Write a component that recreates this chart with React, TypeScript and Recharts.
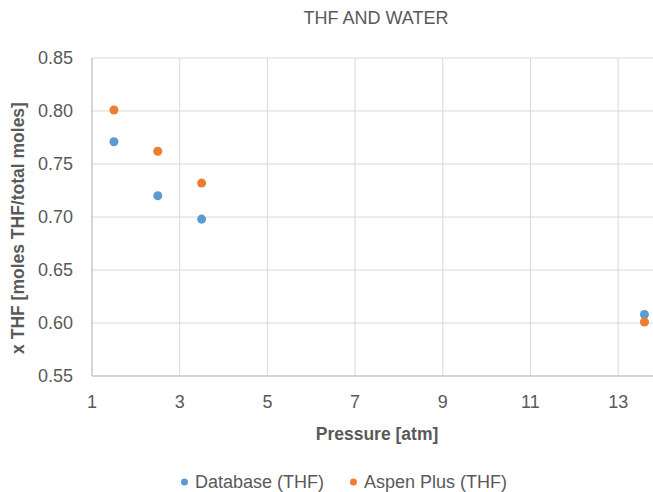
import { ScatterChart, Scatter, XAxis, YAxis, ZAxis, CartesianGrid, Label } from "recharts"

// pressure in atm, shared by both series
const pressure = [1.5, 2.5, 3.5, 13.6]
const databaseTHF = [0.771, 0.72, 0.698, 0.608]
const aspenTHF = [0.801, 0.762, 0.732, 0.601]

const xTicks = [1, 3, 5, 7, 9, 11, 13]
const yTicks = [0.55, 0.6, 0.65, 0.7, 0.75, 0.8, 0.85]

const BLUE = "#5B9BD5"
const ORANGE = "#ED7D31"
const TEXT = "#595959"
const FONT = "'Liberation Sans', Arial, sans-serif"
const SIZE = 18

const databaseData = pressure.map((p, i) => ({ p, x: databaseTHF[i] }))
const aspenData = pressure.map((p, i) => ({ p, x: aspenTHF[i] }))

const YTitle = (props: any) => {
  const { x, y, height } = props.viewBox
  const cx = x + 18
  const cy = y + height / 2 + 11
  return (
    <text
      x={cx}
      y={cy}
      transform={`rotate(-90, ${cx}, ${cy})`}
      textAnchor="middle"
      dominantBaseline="central"
      fill={TEXT}
      fontSize={17.5}
      fontWeight="bold"
      fontFamily={FONT}
    >
      x THF [moles THF/total moles]
    </text>
  )
}

const XTitle = (props: any) => {
  const { x, y, width } = props.viewBox
  return (
    <text
      x={x + width / 2}
      y={y + 58}
      textAnchor="middle"
      dominantBaseline="central"
      fill={TEXT}
      fontSize={17.5}
      fontWeight="bold"
      fontFamily={FONT}
    >
      Pressure [atm]
    </text>
  )
}

function LegendItem({ color, label }: { color: string; label: string }) {
  return (
    <span style={{ display: "flex", alignItems: "center", gap: 7 }}>
      <span
        style={{
          display: "inline-block",
          width: 7,
          height: 7,
          borderRadius: "50%",
          backgroundColor: color,
        }}
      />
      {label}
    </span>
  )
}

export default function App() {
  return (
    <div
      style={{
        position: "absolute",
        left: 0,
        top: 0,
        width: 653,
        height: 492,
        overflow: "hidden",
        background: "#fff",
        fontFamily: FONT,
      }}
    >
      <div
        style={{
          position: "absolute",
          left: 376,
          top: 18,
          transform: "translate(-50%, -50%)",
          whiteSpace: "nowrap",
          color: TEXT,
          fontSize: SIZE,
        }}
      >
        THF AND WATER
      </div>
      <ScatterChart
        width={680}
        height={492}
        margin={{ top: 58, right: 18, left: 0, bottom: 46 }}
      >
        <CartesianGrid stroke="#d9d9d9" strokeWidth={1} />
        <XAxis
          type="number"
          dataKey="p"
          domain={[1, 14]}
          ticks={xTicks}
          height={70}
          tickLine={false}
          tickSize={0}
          tickMargin={19}
          axisLine={{ stroke: "#bfbfbf" }}
          tick={{ fill: TEXT, fontSize: SIZE, fontFamily: FONT }}
        >
          <Label content={XTitle} />
        </XAxis>
        <YAxis
          type="number"
          dataKey="x"
          domain={[0.55, 0.85]}
          ticks={yTicks}
          width={92}
          tickFormatter={(v: number) => v.toFixed(2)}
          tickLine={false}
          tickSize={0}
          tickMargin={19}
          axisLine={{ stroke: "#bfbfbf" }}
          tick={{ fill: TEXT, fontSize: SIZE, fontFamily: FONT }}
        >
          <Label content={YTitle} />
        </YAxis>
        <ZAxis range={[55, 55]} />
        <Scatter
          name="Database (THF)"
          data={databaseData}
          fill={BLUE}
          isAnimationActive={false}
        />
        <Scatter
          name="Aspen Plus (THF)"
          data={aspenData}
          fill={ORANGE}
          isAnimationActive={false}
        />
      </ScatterChart>
      <div
        style={{
          position: "absolute",
          left: 344,
          top: 482,
          transform: "translate(-50%, -50%)",
          display: "flex",
          gap: 26,
          whiteSpace: "nowrap",
          color: TEXT,
          fontSize: SIZE,
        }}
      >
        <LegendItem color={BLUE} label="Database (THF)" />
        <LegendItem color={ORANGE} label="Aspen Plus (THF)" />
      </div>
    </div>
  )
}
